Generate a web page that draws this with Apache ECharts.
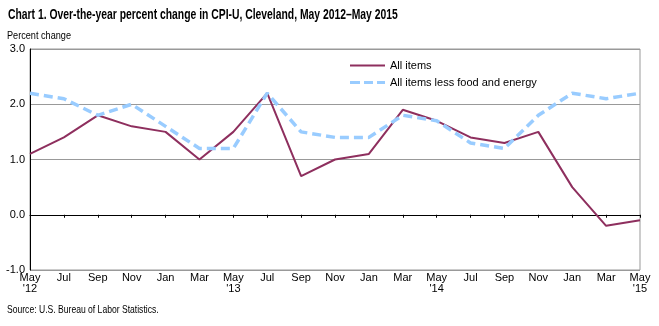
<!DOCTYPE html>
<html><head><meta charset="utf-8">
<script src="https://cdn.jsdelivr.net/npm/echarts@6/dist/echarts.min.js"></script>
<style>html,body{margin:0;padding:0;background:#fff}#c{width:659px;height:326px}</style>
</head><body><div id="c"></div>
<script>
var categories = ["May\n'12","Jul","Sep","Nov","Jan","Mar","May\n'13","Jul","Sep","Nov","Jan","Mar","May\n'14","Jul","Sep","Nov","Jan","Mar","May\n'15"];
var allItems = [1.1,1.4,1.8,1.6,1.5,1.0,1.5,2.2,0.7,1.0,1.1,1.9,1.7,1.4,1.3,1.5,0.5,-0.2,-0.1];
var coreItems = [2.2,2.1,1.8,2.0,1.6,1.2,1.2,2.2,1.5,1.4,1.4,1.8,1.7,1.3,1.2,1.8,2.2,2.1,2.2];
var FONT = '"Liberation Sans", Arial, sans-serif';
var chart = echarts.init(document.getElementById('c'), null, {renderer:'canvas'});
chart.setOption({
  animation:false,
  textStyle:{fontFamily:FONT},
  graphic:[
    {type:'text', x:8, y:15, scaleX:0.74, silent:true,
     style:{text:'Chart 1. Over-the-year percent change in CPI-U, Cleveland, May 2012\u2013May 2015',
            font:'bold 14px "Liberation Sans", Arial, sans-serif', fill:'#000', align:'left', verticalAlign:'middle'}},
    {type:'text', x:7, y:36, scaleX:0.83, silent:true,
     style:{text:'Percent change', font:'11px "Liberation Sans", Arial, sans-serif', fill:'#000', align:'left', verticalAlign:'middle'}},
    {type:'text', x:7, y:310, scaleX:0.78, silent:true,
     style:{text:'Source: U.S. Bureau of Labor Statistics.', font:'11px "Liberation Sans", Arial, sans-serif', fill:'#000', align:'left', verticalAlign:'middle'}}
  ],
  legend:{
    orient:'vertical', left:350, top:60, itemWidth:35, itemHeight:10, itemGap:6, padding:0,
    textStyle:{fontFamily:FONT, fontSize:11, color:'#000'},
    data:[
      {name:'All items', icon:'path://M0,0h34v2h-34z'},
      {name:'All items less food and energy', icon:'path://M0,0h10v3.2h-10zM14,0h9v3.2h-9zM27,0h8v3.2h-8z'}
    ]
  },
  grid:{left:30, right:19, top:49, bottom:56, show:true, borderColor:'#999', borderWidth:1},
  xAxis:{type:'category', data:categories, boundaryGap:false,
    axisLine:{lineStyle:{color:'#000', width:1}},
    axisTick:{show:true, length:3, interval:0, lineStyle:{color:'#000'}},
    axisLabel:{interval:0, color:'#000', fontSize:11, fontFamily:FONT, margin:2, lineHeight:11}
  },
  yAxis:{type:'value', min:-1, max:3, interval:1,
    axisLine:{show:true, lineStyle:{color:'#000', width:1}},
    axisTick:{show:false},
    splitLine:{lineStyle:{color:'#999', width:1}},
    axisLabel:{color:'#000', fontSize:11, fontFamily:FONT, margin:5, formatter:function(v){return v.toFixed(1);}}
  },
  series:[
    {name:'All items', type:'line', data:allItems, symbol:'none',
     lineStyle:{color:'#8E2F5E', width:2}, itemStyle:{color:'#8E2F5E'}},
    {name:'All items less food and energy', type:'line', data:coreItems, symbol:'none',
     lineStyle:{color:'#99CCFF', width:3.5, type:[9,5]}, itemStyle:{color:'#99CCFF'}}
  ]
});
</script></body></html>
